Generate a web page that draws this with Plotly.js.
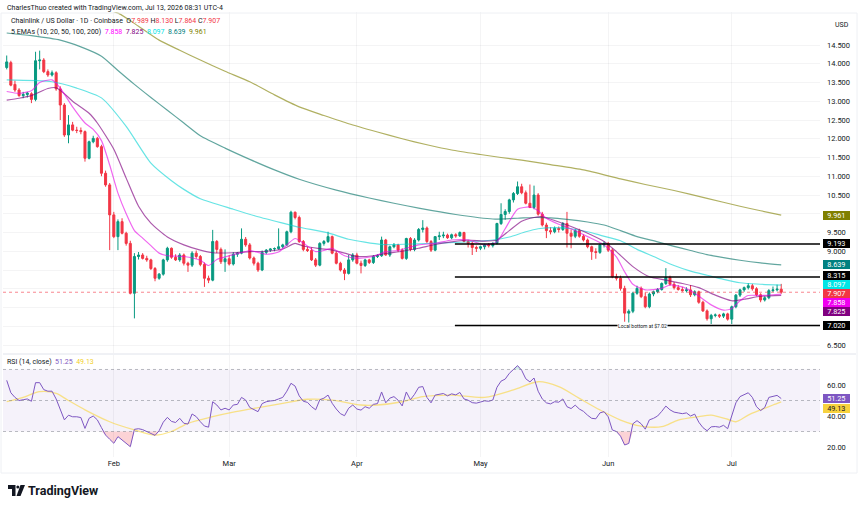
<!DOCTYPE html>
<html>
<head>
<meta charset="utf-8">
<script src="https://cdn.plot.ly/plotly-3.0.1.min.js"></script>
<style>
  html, body { margin: 0; padding: 0; background: #ffffff; }
  #chart { width: 860px; height: 506px; }
</style>
</head>
<body>
<div id="chart"></div>
<script>
// LINK/USD daily candles, Coinbase, starting 2026-01-06
const firstDay = Date.UTC(2026, 0, 6);

const open = [
  13.90,14.03,13.45,13.30,13.15,13.18,13.20,13.05,14.08,14.10,
  13.79,13.70,13.76,13.33,12.90,12.10,12.37,12.23,12.22,12.19,
  11.48,11.92,12.01,11.79,11.08,10.77,9.97,9.39,9.79,9.48,
  9.21,7.88,8.86,8.90,8.81,8.77,8.54,8.28,8.39,8.77,
  9.08,8.84,8.77,8.90,8.68,8.63,8.95,8.86,8.65,8.28,
  8.23,9.26,9.05,8.72,8.80,8.66,8.92,8.95,9.32,9.17,
  8.82,8.68,8.50,8.97,9.03,9.06,9.07,9.12,9.17,9.52,
  10.04,9.90,9.26,9.05,9.02,8.77,8.63,9.21,9.26,9.39,
  8.95,8.68,8.50,8.41,8.77,8.90,8.68,8.62,8.77,8.70,
  8.86,8.88,9.30,8.90,9.12,9.17,9.03,8.81,9.34,9.05,
  9.30,9.58,9.62,9.26,9.03,9.39,9.41,9.43,9.36,9.44,
  9.41,9.50,9.26,9.21,9.10,9.08,9.12,9.17,9.15,9.21,
  9.74,9.98,10.06,10.37,10.54,10.72,10.56,10.28,10.17,10.50,
  9.99,9.70,9.55,9.52,9.61,9.58,9.74,9.48,9.40,9.55,
  9.40,9.30,9.12,8.99,8.97,9.17,9.21,9.03,8.32,8.28,
  8.01,7.35,7.40,7.88,8.01,7.79,7.52,7.86,7.92,7.98,
  8.14,8.30,8.12,8.03,7.98,7.95,7.97,7.84,7.92,7.64,
  7.41,7.20,7.29,7.30,7.27,7.33,7.19,7.52,7.83,7.97,
  8.03,8.08,8.00,7.84,7.70,7.76,7.95,7.97,7.989
];
const high = [
  14.22,14.08,13.55,13.35,13.25,13.25,13.24,14.32,14.35,14.15,
  13.85,13.82,13.80,13.40,12.95,12.63,12.45,12.32,12.30,12.22,
  11.95,12.08,12.05,11.84,11.15,10.82,10.05,9.85,9.88,9.52,
  9.28,8.95,8.98,8.95,8.88,8.80,8.58,8.42,8.80,9.12,
  9.10,8.92,8.95,8.94,8.72,9.00,9.02,8.90,8.70,8.35,
  9.57,9.30,9.10,9.05,8.90,8.98,8.98,9.61,9.38,9.22,
  8.86,8.72,9.02,9.06,9.08,9.10,9.61,9.20,9.55,10.08,
  10.06,9.95,9.30,9.12,9.10,8.82,9.24,9.30,9.52,9.42,
  9.00,8.72,8.55,8.90,8.95,8.96,8.75,8.80,8.80,8.90,
  8.92,9.39,9.33,9.15,9.22,9.20,9.08,9.36,9.38,9.35,
  9.62,9.83,9.66,9.30,9.40,9.52,9.52,9.47,9.47,9.48,
  9.53,9.52,9.30,9.26,9.15,9.15,9.20,9.22,9.24,9.76,
  10.28,10.12,10.40,10.58,10.86,10.80,10.62,10.78,10.75,10.55,
  10.05,9.76,9.64,9.66,9.66,9.78,10.05,9.58,9.60,9.60,
  9.45,9.34,9.15,9.08,9.20,9.26,9.25,9.08,8.40,8.35,
  8.08,7.45,7.92,8.08,8.06,7.90,7.90,7.95,8.02,8.17,
  8.55,8.35,8.18,8.10,8.05,8.04,8.10,7.96,7.95,7.68,
  7.45,7.33,7.34,7.33,7.36,7.36,7.55,7.86,8.00,8.06,
  8.15,8.13,8.04,7.88,7.80,7.99,8.06,8.11,8.130
];
const low = [
  13.85,13.40,13.25,13.12,13.08,13.10,12.95,13.00,13.85,13.75,
  13.65,13.66,13.28,12.50,12.05,11.88,12.20,12.15,12.12,11.39,
  11.45,11.88,11.76,11.00,10.72,9.03,9.35,9.03,9.45,9.15,
  7.85,7.21,8.78,8.78,8.72,8.50,8.20,8.24,8.35,8.72,
  8.80,8.74,8.72,8.62,8.45,8.58,8.80,8.60,8.05,8.15,
  8.20,8.95,8.66,8.45,8.62,8.62,8.85,8.92,9.12,8.78,
  8.62,8.45,8.47,8.92,8.98,9.00,9.04,9.08,9.14,9.48,
  9.85,9.22,9.00,8.98,8.74,8.58,8.60,9.15,9.22,8.92,
  8.65,8.46,8.23,8.38,8.72,8.65,8.41,8.58,8.66,8.66,
  8.82,8.85,8.88,8.85,9.08,8.98,8.78,8.77,9.00,9.00,
  9.26,9.50,9.22,8.98,9.00,9.30,9.35,9.33,9.32,9.36,
  9.38,9.24,9.10,8.90,8.98,9.03,9.05,9.10,9.10,9.18,
  9.70,9.84,10.00,10.30,10.50,10.52,10.25,10.15,10.12,9.95,
  9.66,9.35,9.45,9.48,9.50,9.54,9.10,9.08,9.35,9.36,
  9.26,9.08,8.77,8.80,8.93,9.10,8.98,8.28,8.22,7.95,
  7.12,7.02,7.35,7.84,7.75,7.48,7.48,7.80,7.88,7.95,
  8.10,8.08,7.98,7.95,7.92,7.90,7.78,7.80,7.60,7.38,
  7.15,7.06,7.24,7.22,7.22,7.15,7.06,7.48,7.78,7.92,
  7.98,7.95,7.80,7.64,7.66,7.72,7.91,7.93,7.864
];
const close = [
  14.05,13.43,13.30,13.15,13.18,13.22,13.05,14.08,14.10,13.79,
  13.70,13.76,13.33,12.90,12.10,12.37,12.23,12.22,12.19,11.48,
  11.92,12.01,11.79,11.08,10.77,9.97,9.39,9.79,9.48,9.21,
  7.88,8.86,8.90,8.81,8.77,8.54,8.28,8.39,8.77,9.08,
  8.84,8.77,8.90,8.68,8.63,8.95,8.86,8.65,8.28,8.23,
  9.26,9.05,8.72,8.80,8.66,8.92,8.95,9.32,9.17,8.82,
  8.68,8.50,8.97,9.03,9.06,9.07,9.12,9.17,9.52,10.04,
  9.90,9.26,9.05,9.02,8.77,8.63,9.21,9.26,9.39,8.95,
  8.68,8.50,8.41,8.77,8.90,8.68,8.62,8.77,8.70,8.86,
  8.88,9.30,8.90,9.12,9.17,9.03,8.81,9.34,9.05,9.30,
  9.58,9.62,9.26,9.03,9.39,9.41,9.43,9.36,9.44,9.41,
  9.50,9.26,9.21,9.10,9.08,9.12,9.17,9.15,9.21,9.74,
  9.98,10.06,10.37,10.54,10.72,10.56,10.28,10.17,10.50,9.99,
  9.70,9.55,9.52,9.61,9.58,9.74,9.48,9.40,9.55,9.40,
  9.30,9.12,8.99,8.97,9.17,9.21,9.03,8.32,8.28,8.01,
  7.35,7.40,7.88,8.01,7.79,7.52,7.86,7.92,7.98,8.14,
  8.30,8.12,8.03,7.98,7.95,7.97,7.84,7.92,7.64,7.41,
  7.20,7.29,7.30,7.27,7.33,7.19,7.52,7.83,7.97,8.03,
  8.08,8.00,7.84,7.70,7.76,7.95,7.97,7.989,7.907
];

// EMA lines, read at sample days (index from first candle)
const ema10Idx = [0,3,6,8,11,13,16,19,21,23,25,27,29,31,33,35,37,39,43,47,49,51,54,57,59,63,66,70,72,75,77,79,82,85,89,92,95,100,104,108,112,116,119,121,124,127,129,131,134,137,141,145,148,150,152,155,159,161,164,167,171,174,176,178,180,183,186,188];
const ema10Val = [13.26,13.21,13.28,13.50,13.57,13.35,12.85,12.42,12.25,11.95,11.30,10.55,10.00,9.55,9.35,9.15,8.95,8.88,8.86,8.76,8.62,8.78,8.88,8.96,9.02,8.92,8.98,9.34,9.22,8.99,9.02,9.08,8.88,8.81,8.86,8.99,9.02,9.17,9.21,9.30,9.30,9.17,9.25,9.60,10.12,10.18,10.08,9.88,9.72,9.60,9.39,9.17,8.85,8.45,8.12,7.97,8.01,8.10,8.05,7.88,7.57,7.43,7.47,7.68,7.82,7.82,7.84,7.858];
const ema20Idx = [0,3,6,10,12,14,16,20,22,26,29,32,35,39,43,47,50,55,59,63,67,70,72,76,79,82,85,89,92,96,100,104,108,112,116,119,122,125,128,130,133,137,141,145,148,152,156,160,164,168,172,176,179,183,188];
const ema20Val = [13.03,13.08,13.15,13.34,13.36,13.20,13.00,12.68,12.42,11.72,10.95,10.20,9.75,9.38,9.17,9.03,8.96,8.96,8.99,9.00,9.06,9.21,9.14,9.07,9.03,8.95,8.86,8.88,8.94,9.00,9.08,9.18,9.25,9.30,9.27,9.30,9.55,9.80,9.90,9.92,9.82,9.66,9.48,9.26,8.99,8.59,8.32,8.23,8.14,8.03,7.83,7.68,7.72,7.80,7.825];
const ema50Idx = [0,11,17,23,29,35,40,43,47,55,61,67,71,78,83,91,100,110,118,122,126,129,133,137,141,144,149,153,157,162,166,170,174,178,183,188];
const ema50Val = [13.57,13.52,13.35,13.09,12.33,11.35,10.88,10.65,10.40,10.12,9.92,9.75,9.64,9.49,9.32,9.18,9.20,9.24,9.30,9.38,9.52,9.60,9.63,9.60,9.52,9.43,9.28,9.05,8.86,8.62,8.47,8.36,8.25,8.16,8.12,8.097];
const ema100Idx = [0,6,13,18,23,27,31,35,39,43,47,53,59,65,71,80,88,94,100,109,118,124,128,132,136,141,145,149,153,158,162,166,170,174,178,183,188];
const ema100Val = [14.82,14.75,14.63,14.45,14.20,13.82,13.45,13.10,12.76,12.42,12.08,11.75,11.45,11.17,10.92,10.63,10.42,10.28,10.15,9.98,9.86,9.88,9.90,9.89,9.85,9.78,9.70,9.55,9.39,9.25,9.13,9.02,8.91,8.83,8.76,8.69,8.639];
const ema200Idx = [0,13,27,32,37,42,47,53,59,65,71,77,83,90,96,102,108,115,120,125,132,140,149,155,162,170,178,183,188];
const ema200Val = [16.2,15.8,15.35,15.0,14.63,14.36,14.10,13.80,13.52,13.17,12.85,12.62,12.40,12.18,12.00,11.84,11.70,11.58,11.50,11.43,11.31,11.17,10.93,10.78,10.62,10.41,10.20,10.08,9.961];

// RSI(14) per day and its moving average at sample days
const rsi = [
  63,55,52,50,50.5,51,49.5,61.5,61.5,57,
  56,56,51,44,37.5,40.5,39.5,39.5,39,32,
  38.5,40,37.5,32.5,27.7,25,22.4,26.7,24.5,22.5,
  20.2,31.4,31.8,31.2,30,29,27.5,30.5,36,39.1,
  36.5,35.8,38.5,35.3,34.8,41.3,39.6,36.3,33.5,32.8,
  49.2,47.1,43.9,45,43.9,47.1,47.5,52,50.3,45.5,
  44,42.8,48,49.2,49.7,50,51,52,56,61.1,
  59.3,53,49.5,48.8,46,44,50.5,51.5,53.5,48.2,
  44.5,41.5,40.2,45,47.1,44.5,43.8,46,45,47.5,
  48,55.5,48.5,51.5,52.5,50.2,46.5,55.5,50.5,54,
  58.5,59,52,48.5,53.5,54,54.5,53,54.3,53.6,
  55.2,51,50.2,48.6,48.3,49,49.8,49.5,50.3,58.5,
  62.5,63.8,67.5,70,72.5,69.5,64,62,64.5,56,
  51,48.5,47.8,49.2,48.9,51,46,44.8,47,44.5,
  43,40.5,38.5,38.2,42,42.8,39.5,31,30,27,
  21.3,22.3,35,37,35,31.5,37.5,38.5,40,43,
  46.4,44,42.5,42,41.5,42,40,41.2,36,32.5,
  30.5,33,33.2,32.8,34,31.8,41,48.5,52.5,54,
  55,52,46,43.5,45.5,52,52.6,53.3,51.25
];
const rsiMaIdx = [0,4,8,12,15,19,25,31,36,40,44,50,55,60,67,73,79,86,90,96,101,108,116,123,129,134,139,144,149,154,159,163,168,171,175,177,180,183,186,188];
const rsiMaVal = [49.2,52,55.7,54.6,50,44,36.3,31,27.7,30,35.3,39.6,42.5,44.9,48.2,50.8,50.3,47.1,47.1,49.2,52.5,53.5,52,56.8,62.1,58.9,51.4,43.9,37.4,33.5,33.1,37.4,39.6,40.6,37.9,36.3,40.6,43.9,47.1,49.13];

// horizontal levels
const levels = [9.193, 8.315, 7.020];
const levelStart = '2026-04-24 19:00';
const monthTicks = ['2026-02-01','2026-03-01','2026-04-01','2026-05-01','2026-06-01','2026-07-01'];
const priceTicks = [6.5,7,7.5,8,8.5,9,9.5,10,10.5,11,11.5,12,12.5,13,13.5,14,14.5];
// scale marks sitting under the price tags carry no text
const coveredTicks = [7, 7.5, 8, 8.5, 10];
const rsiTicks = [20,40,60];

function dayAt(i) {
  return new Date(firstDay + i * 86400000).toISOString().slice(0, 16).replace('T', ' ');
}
const dates = close.map((_, i) => dayAt(i));
const xStart = '2026-01-05 02:24';
const xEnd = '2026-07-22 10:00';

// page geometry helpers (pixel -> paper)
const W = 860, H = 506, M = { l: 3, r: 40, t: 12, b: 49 };
const PW = W - M.l - M.r, PH = H - M.t - M.b;
const px = X => (X - M.l) / PW;
const py = Y => (H - M.b - Y) / PH;

const FONT = 'Roboto, "Open Sans", sans-serif';
const INK = '#131722';

function emaTrace(idx, val, color) {
  return {
    type: 'scatter', mode: 'lines', x: idx.map(dayAt), y: val,
    line: { color: color, width: 1.2, shape: 'spline', smoothing: 0.6 },
    hoverinfo: 'skip', xaxis: 'x', yaxis: 'y'
  };
}

const traces = [
  {
    type: 'candlestick', x: dates, open: open, high: high, low: low, close: close,
    increasing: { line: { color: '#089981', width: 1 }, fillcolor: '#089981' },
    decreasing: { line: { color: '#f23645', width: 1 }, fillcolor: '#f23645' },
    whiskerwidth: 0, hoverinfo: 'skip', xaxis: 'x', yaxis: 'y'
  },
  emaTrace(ema200Idx, ema200Val, 'rgba(128,128,0,0.62)'),
  emaTrace(ema100Idx, ema100Val, 'rgba(0,112,100,0.62)'),
  emaTrace(ema50Idx, ema50Val, 'rgba(0,210,210,0.6)'),
  emaTrace(ema20Idx, ema20Val, 'rgba(128,0,128,0.65)'),
  emaTrace(ema10Idx, ema10Val, 'rgba(230,0,230,0.6)'),
  // oversold / overbought fills
  { type: 'scatter', mode: 'lines', x: dates, y: dates.map(() => 30), line: { width: 0 }, hoverinfo: 'skip', xaxis: 'x', yaxis: 'y2' },
  { type: 'scatter', mode: 'lines', x: dates, y: rsi.map(v => Math.min(v, 30)), fill: 'tonexty', fillcolor: 'rgba(242,54,69,0.22)', line: { width: 0 }, hoverinfo: 'skip', xaxis: 'x', yaxis: 'y2' },
  { type: 'scatter', mode: 'lines', x: dates, y: dates.map(() => 70), line: { width: 0 }, hoverinfo: 'skip', xaxis: 'x', yaxis: 'y2' },
  { type: 'scatter', mode: 'lines', x: dates, y: rsi.map(v => Math.max(v, 70)), fill: 'tonexty', fillcolor: 'rgba(8,153,129,0.18)', line: { width: 0 }, hoverinfo: 'skip', xaxis: 'x', yaxis: 'y2' },
  {
    type: 'scatter', mode: 'lines', x: rsiMaIdx.map(dayAt), y: rsiMaVal,
    line: { color: 'rgba(250,210,40,0.55)', width: 1.3, shape: 'spline', smoothing: 0.8 },
    hoverinfo: 'skip', xaxis: 'x', yaxis: 'y2'
  },
  {
    type: 'scatter', mode: 'lines', x: dates, y: rsi,
    line: { color: '#7e57c2', width: 1 }, hoverinfo: 'skip', xaxis: 'x', yaxis: 'y2'
  }
];

const shapes = [
  { type: 'rect', xref: 'paper', yref: 'y2', x0: 0, x1: 1, y0: 30, y1: 70, fillcolor: 'rgba(126,87,194,0.08)', line: { width: 0 }, layer: 'below' },
  ...[70, 50, 30].map(v => ({ type: 'line', xref: 'paper', yref: 'y2', x0: 0, x1: 1, y0: v, y1: v, line: { color: 'rgba(120,123,134,0.5)', width: 1, dash: '3px,3px' } })),
  ...levels.map(v => ({ type: 'line', xref: 'x', yref: 'y', x0: levelStart, x1: xEnd, y0: v, y1: v, line: { color: '#000000', width: 1.6 } })),
  { type: 'line', xref: 'paper', yref: 'y', x0: 0, x1: 1, y0: close[close.length - 1], y1: close[close.length - 1], line: { color: 'rgba(242,54,69,0.6)', width: 1, dash: 'dot' } },
  { type: 'line', xref: 'paper', yref: 'paper', x0: px(3), x1: px(856), y0: py(354), y1: py(354), line: { color: '#e0e3eb', width: 1 } },
  { type: 'rect', xref: 'paper', yref: 'paper', x0: px(1), x1: px(857), y0: py(473), y1: py(13), line: { color: '#eef0f4', width: 1 } }
];

// TradingView mark
function pathFrom(points) {
  return 'M ' + points.map(p => px(p[0]) + ',' + py(p[1])).join(' L ') + ' Z';
}
shapes.push({ type: 'path', xref: 'paper', yref: 'paper', path: pathFrom([[8,485],[15.5,485],[15.5,496],[12,496],[12,489],[8,489]]), fillcolor: INK, line: { width: 0 } });
shapes.push({ type: 'circle', xref: 'paper', yref: 'paper', x0: px(16.3), x1: px(19.3), y0: py(488.6), y1: py(485.6), fillcolor: INK, line: { width: 0 } });
shapes.push({ type: 'path', xref: 'paper', yref: 'paper', path: pathFrom([[20.5,485],[25,485],[20.5,496],[16.5,496]]), fillcolor: INK, line: { width: 0 } });

function textAt(X, Y, text, size, color, extra) {
  return Object.assign({
    xref: 'paper', yref: 'paper', x: px(X), y: py(Y), xanchor: 'left', yanchor: 'middle',
    text: text, showarrow: false, font: { family: FONT, size: size, color: color }
  }, extra || {});
}
// axis price tag; shift nudges stacked tags apart (pixels, + is up)
function tag(value, yref, bg, fg, shift, digits) {
  return {
    xref: 'paper', yref: yref, x: 1, y: value, xanchor: 'left', yanchor: 'middle',
    xshift: 3, yshift: shift, text: value.toFixed(digits), showarrow: false,
    width: 26, height: 8.4, align: 'center', valign: 'middle',
    bgcolor: bg, borderpad: 0.3, borderwidth: 0, font: { family: FONT, size: 7.3, color: fg }
  };
}
const red = '#f23645';
const last = close.length - 1;
const annotations = [
  textAt(5, 8, 'CharlesThuo created with TradingView.com, Jul 13, 2026 08:31 UTC-4', 7, INK),
  textAt(9, 21, 'Chainlink / US Dollar · 1D · Coinbase\u00A0\u00A0O<span style="color:' + red + '">' + open[last].toFixed(3) + '</span>\u00A0H<span style="color:' + red + '">' + high[last].toFixed(3) + '</span>\u00A0L<span style="color:' + red + '">' + low[last].toFixed(3) + '</span>\u00A0C<span style="color:' + red + '">' + close[last].toFixed(3) + '</span>', 7, INK),
  textAt(9, 32, '5 EMAs (10, 20, 50, 100, 200)\u00A0\u00A0<span style="color:#ff00ff">' + ema10Val[ema10Val.length - 1].toFixed(3) + '</span>\u00A0\u00A0<span style="color:#800080">' + ema20Val[ema20Val.length - 1].toFixed(3) + '</span>\u00A0\u00A0<span style="color:#00e5e5">' + ema50Val[ema50Val.length - 1].toFixed(3) + '</span>\u00A0\u00A0<span style="color:#008080">' + ema100Val[ema100Val.length - 1].toFixed(3) + '</span>\u00A0\u00A0<span style="color:#808000">' + ema200Val[ema200Val.length - 1].toFixed(3) + '</span>', 7, INK),
  textAt(5, 362, 'RSI (14, close)\u00A0\u00A0<span style="color:#7e57c2">' + rsi[last].toFixed(2) + '</span>\u00A0\u00A0<span style="color:#f2cf2a">' + rsiMaVal[rsiMaVal.length - 1].toFixed(2) + '</span>', 7, INK),
  textAt(833, 25, 'USD', 7, INK),
  textAt(26, 490.5, 'TradingView', 12.5, INK, { font: { family: FONT, size: 12.5, color: INK, weight: 700 } }),
  {
    xref: 'x', yref: 'y', x: '2026-06-09 05:00', y: levels[2], text: 'Local bottom at $7.02',
    showarrow: false, bgcolor: '#ffffff', borderpad: 0, font: { family: FONT, size: 5, color: INK }
  },
  tag(ema200Val[ema200Val.length - 1], 'y', '#808000', '#ffffff', 0, 3),
  tag(levels[0], 'y', '#000000', '#ffffff', 1, 3),
  tag(ema100Val[ema100Val.length - 1], 'y', '#008080', '#ffffff', 0, 3),
  tag(levels[1], 'y', '#000000', '#ffffff', 1.5, 3),
  tag(ema50Val[ema50Val.length - 1], 'y', '#00e5e5', '#ffffff', 0.5, 3),
  tag(close[last], 'y', red, '#ffffff', -1.2, 3),
  tag(ema10Val[ema10Val.length - 1], 'y', '#f000f0', '#ffffff', -8.2, 3),
  tag(ema20Val[ema20Val.length - 1], 'y', '#800080', '#ffffff', -16, 3),
  tag(levels[2], 'y', '#000000', '#ffffff', 0, 3),
  tag(rsi[last], 'y2', '#7e57c2', '#ffffff', 0, 2),
  tag(rsiMaVal[rsiMaVal.length - 1], 'y2', '#f7d23e', INK, -7, 2)
];

const layout = {
  width: W, height: H, margin: M,
  paper_bgcolor: '#ffffff', plot_bgcolor: '#ffffff',
  showlegend: false, hovermode: false,
  font: { family: FONT, size: 7.5, color: INK },
  xaxis: {
    type: 'date', range: [xStart, xEnd], anchor: 'y2',
    tickvals: monthTicks, tickformat: '%b', ticks: '',
    showgrid: true, gridcolor: 'rgba(42,46,57,0.05)', zeroline: false, showline: false,
    rangeslider: { visible: false }, tickfont: { size: 7.5, color: INK }
  },
  yaxis: {
    domain: [py(353), 1], range: [6.2867, 15.38], side: 'right',
    tickvals: priceTicks,
    ticktext: priceTicks.map(v => coveredTicks.includes(v) ? '' : v.toFixed(3)),
    ticks: '', ticklabelstandoff: 6,
    showgrid: true, gridcolor: 'rgba(42,46,57,0.05)', zeroline: false, showline: false,
    tickfont: { size: 7.5, color: INK }
  },
  yaxis2: {
    domain: [0, py(355)], range: [13.55, 79.35], side: 'right',
    tickvals: rsiTicks, ticktext: rsiTicks.map(v => v.toFixed(2)), ticks: '',
    ticklabelstandoff: 6,
    showgrid: false, zeroline: false, showline: false,
    tickfont: { size: 7.5, color: INK }
  },
  shapes: shapes,
  annotations: annotations
};

Plotly.newPlot('chart', traces, layout, { staticPlot: true, displayModeBar: false });
</script>
</body>
</html>
